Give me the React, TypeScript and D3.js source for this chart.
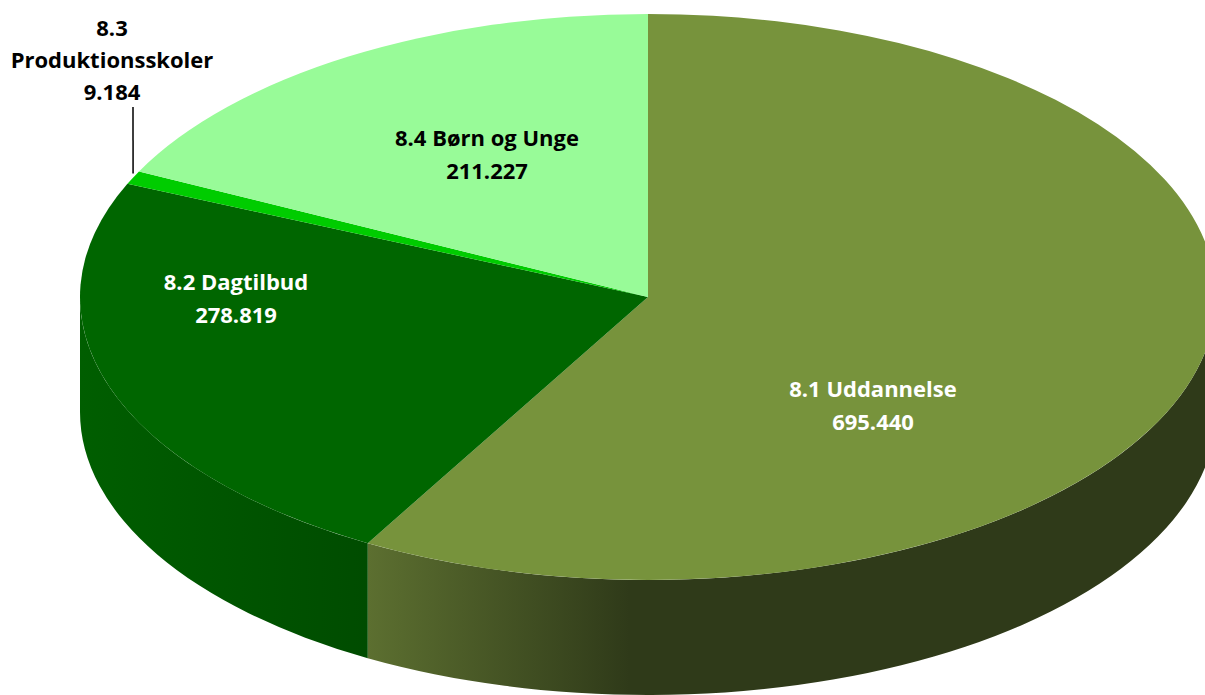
import React from "react";
import * as d3 from "d3";

const categories = ["8.1 Uddannelse", "8.2 Dagtilbud", "8.3 Produktionsskoler", "8.4 Børn og Unge"];
const values = [695.44, 278.819, 9.184, 211.227];
const valueLabels = ["695.440", "278.819", "9.184", "211.227"];
const topColors = ["#77933C", "#006600", "#00CC00", "#98FB98"];
const sideColorsLight = ["#5C6F30", "#005E00", "#00B000", "#80E080"];
const sideColorsDark = ["#2F3A19", "#004C00", "#009000", "#70C070"];

const W = 1205;
const H = 695;
const cx = 648;
const cy = 297;
const rx = 568;
const ry = 283;
const depth = 115;

function pt(a: number, dy = 0): [number, number] {
  return [cx + rx * Math.sin(a), cy - ry * Math.cos(a) + dy];
}

export default function App() {
  const pie = d3
    .pie<number>()
    .sort(null)
    .startAngle(0)
    .endAngle(2 * Math.PI)
    .value((d) => d);
  const arcs = pie(values);

  const sides = arcs.map((a, i) => {
    const s = Math.max(a.startAngle, Math.PI / 2);
    const e = Math.min(a.endAngle, (3 * Math.PI) / 2);
    if (s >= e) return null;
    const p0 = pt(s);
    const p1 = pt(e);
    const q1 = pt(e, depth);
    const q0 = pt(s, depth);
    const d = `M${p0[0]},${p0[1]} A${rx},${ry} 0 0 1 ${p1[0]},${p1[1]} L${q1[0]},${q1[1]} A${rx},${ry} 0 0 0 ${q0[0]},${q0[1]} Z`;
    const xs = [p0[0], p1[0]];
    return { d, i, x0: Math.min(...xs), x1: Math.max(...xs) };
  });

  const tops = arcs.map((a, i) => {
    const p0 = pt(a.startAngle);
    const p1 = pt(a.endAngle);
    const large = a.endAngle - a.startAngle > Math.PI ? 1 : 0;
    return `M${cx},${cy} L${p0[0]},${p0[1]} A${rx},${ry} 0 ${large} 1 ${p1[0]},${p1[1]} Z`;
  });

  const font = "'Open Sans', Lato, sans-serif";
  const fs = 22;
  const labelPos: { x: number; y: number; color: string }[] = [
    { x: 873, y: 389, color: "#FFFFFF" },
    { x: 236, y: 282, color: "#FFFFFF" },
    { x: 112, y: 28, color: "#000000" },
    { x: 487, y: 138, color: "#000000" },
  ];

  const leaderTop = pt(arcs[2].startAngle + (arcs[2].endAngle - arcs[2].startAngle) / 2);

  return (
    <svg width={W} height={H} style={{ position: "absolute", left: 0, top: 0, background: "#fff" }}>
      <defs>
        {sides.map((s) =>
          s ? (
            <linearGradient
              key={s.i}
              id={`side${s.i}`}
              gradientUnits="userSpaceOnUse"
              x1={s.i === 0 ? 368 : 80}
              x2={s.i === 0 ? 630 : 368}
              y1={0}
              y2={0}
            >
              <stop offset="0" stopColor={sideColorsLight[s.i]} />
              <stop offset="1" stopColor={sideColorsDark[s.i]} />
            </linearGradient>
          ) : null
        )}
      </defs>
      {sides.map((s) => (s ? <path key={`s${s.i}`} d={s.d} fill={`url(#side${s.i})`} /> : null))}
      {tops.map((d, i) => (
        <path key={`t${i}`} d={d} fill={topColors[i]} />
      ))}
      <line x1={133} y1={107} x2={leaderTop[0]} y2={leaderTop[1] - 4} stroke="#000" strokeWidth={1.5} />
      {categories.map((c, i) => {
        const lp = labelPos[i];
        if (i === 2) {
          const parts = c.split(" ");
          return (
            <text key={`l${i}`} x={lp.x} textAnchor="middle" fontFamily={font} fontWeight="bold" fontSize={fs} fill={lp.color}>
              <tspan x={lp.x} y={lp.y + 8}>{parts[0]}</tspan>
              <tspan x={lp.x} y={lp.y + 40}>{parts[1]}</tspan>
              <tspan x={lp.x} y={lp.y + 72}>{valueLabels[i]}</tspan>
            </text>
          );
        }
        return (
          <text key={`l${i}`} textAnchor="middle" fontFamily={font} fontWeight="bold" fontSize={fs} fill={lp.color}>
            <tspan x={lp.x} y={lp.y + 8}>{c}</tspan>
            <tspan x={lp.x} y={lp.y + 41}>{valueLabels[i]}</tspan>
          </text>
        );
      })}
    </svg>
  );
}
